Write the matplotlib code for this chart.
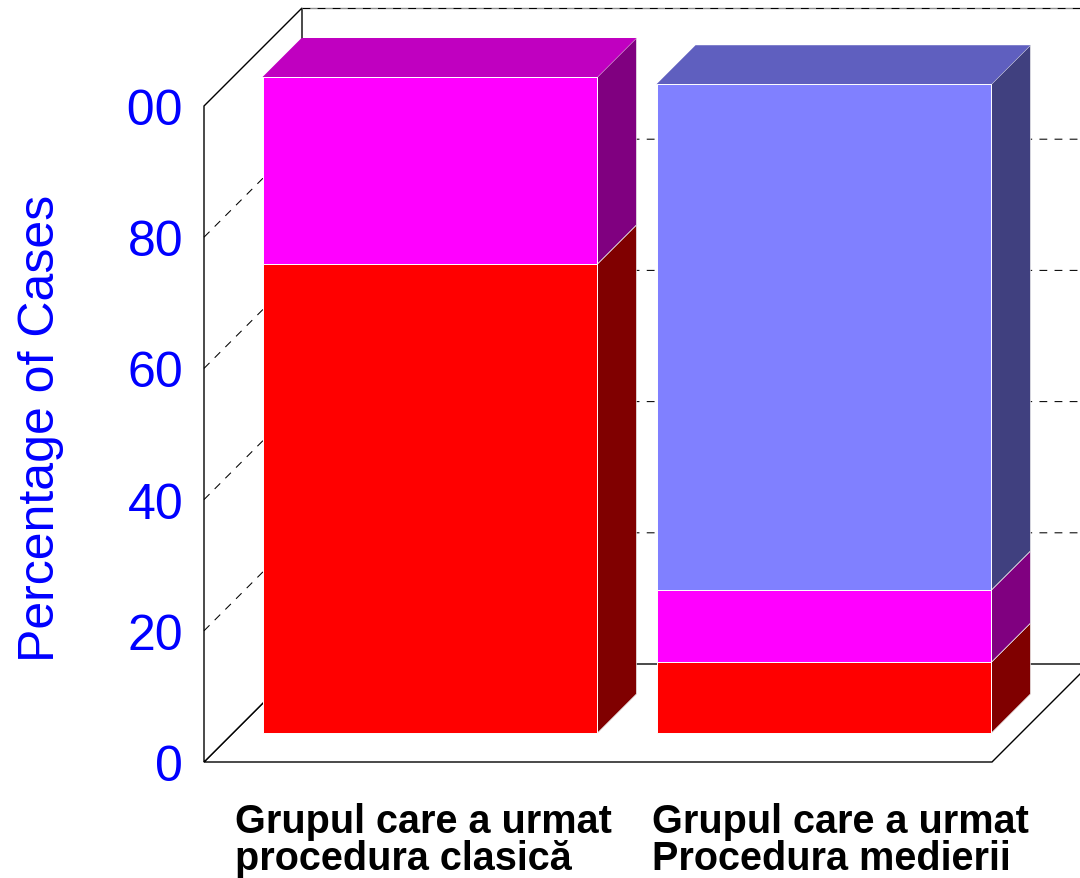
import matplotlib
matplotlib.use("Agg")
import matplotlib.pyplot as plt
from matplotlib.transforms import Bbox, TransformedBbox

# Data (percent of cases)
categories = ["Grupul care a urmat\nprocedura clasică",
              "Grupul care a urmat\nProcedura medierii"]
cat_pos = [0, 1]
red_vals = [71.5, 10.8]
magenta_vals = [28.5, 11.0]
blue_vals = [0.0, 77.1]
yticks = [0, 20, 40, 60, 80, 100]

# front, side, top shades per series
series = [
    (red_vals, "#FF0000", "#800000", "#C00000"),
    (magenta_vals, "#FF00FF", "#800080", "#C000C0"),
    (blue_vals, "#8080FF", "#40407F", "#5F5FBF"),
]

W, H = 1080, 879
fig = plt.figure(figsize=(W / 100, H / 100), dpi=100)
ax = fig.add_axes([204 / W, 116 / H, 788 / W, 656 / H])
ax.set_xlim(-0.5, 1.5)
ax.set_ylim(0, 100)
for s in ax.spines.values():
    s.set_visible(False)
ax.set_xticks([])
ax.set_yticks(yticks)
ax.set_yticklabels([str(t) for t in yticks])
ax.tick_params(axis="y", length=0, pad=15, labelsize=36, labelcolor="#0000FF")
for lab in ax.get_yticklabels():
    lab.set_family("Liberation Sans")

# oblique projection: depth z given in pixels
DX, DY = 2 / 788, 100 / 656
DEPTH = 98
Z0, Z1 = 29, 68   # bar depth range
BW = 0.85


def proj(pts):
    xs = [x + z * DX for x, y, z in pts]
    ys = [y + z * DY for x, y, z in pts]
    return xs, ys


def face(pts, **kw):
    xs, ys = proj(pts)
    ax.fill(xs, ys, clip_on=False, **kw)


def line(pts, **kw):
    xs, ys = proj(pts)
    ax.plot(xs, ys, clip_on=False, **kw)


x0, x1 = ax.get_xlim()
# walls and floor
face([(x0, 0, DEPTH), (x1, 0, DEPTH), (x1, 100, DEPTH), (x0, 100, DEPTH)],
     facecolor="white", edgecolor="none", zorder=1)
face([(x0, 0, 0), (x1, 0, 0), (x1, 0, DEPTH), (x0, 0, DEPTH)],
     facecolor="white", edgecolor="black", linewidth=1.0, zorder=1)
face([(x0, 0, 0), (x0, 100, 0), (x0, 100, DEPTH), (x0, 0, DEPTH)],
     facecolor="white", edgecolor="black", linewidth=1.0, zorder=1)

# dashed gridlines on left wall and back wall
for v in yticks[1:-1]:
    line([(x0, v, 0), (x0, v, DEPTH), (x1, v, DEPTH)], color="black",
         linewidth=0.75, dashes=(7.5, 7), zorder=2)
line([(x0, 100, DEPTH), (x1, 100, DEPTH)], color="#909090", linewidth=1.0, zorder=2)
line([(x0, 100, DEPTH), (x1, 100, DEPTH)], color="black", linewidth=0.75,
     dashes=(7.5, 7), zorder=2)

# stacked pseudo-3D bars
for i, xc in enumerate(cat_pos):
    xl, xr = xc - BW / 2, xc + BW / 2
    bottom = 0.0
    for vals, c_front, c_side, c_top in series:
        v = vals[i]
        if v <= 0:
            continue
        b, t = bottom, bottom + v
        face([(xr, b, Z0), (xr, b, Z1), (xr, t, Z1), (xr, t, Z0)],
             facecolor=c_side, edgecolor="#e8e8e8", linewidth=0.5, zorder=3)
        face([(xl, b, Z0), (xr, b, Z0), (xr, t, Z0), (xl, t, Z0)],
             facecolor=c_front, edgecolor="white", linewidth=0.7, zorder=4)
        last = (t, c_top)
        bottom = t
    t, c_top = last
    face([(xl, t, Z0), (xr, t, Z0), (xr, t, Z1), (xl, t, Z1)],
         facecolor=c_top, edgecolor="none", zorder=3)

# category labels
label_x = [235, 652]
for lx, txt in zip(label_x, categories):
    fig.text(lx / W, 9 / H, txt, ha="left", va="baseline", fontsize=28.5,
             fontweight="bold", family="Liberation Sans", color="black",
             linespacing=0.97)

fig.text(41 / W, 1 - 428 / H, "Percentage of Cases", rotation=90, ha="center",
         va="center", fontsize=36, color="#0000FF", family="Liberation Sans")

# the top tick label is cut off at the left in the original
top_lab = ax.get_yticklabels()[-1]
top_lab.set_clip_box(TransformedBbox(Bbox([[126 / W, 0], [1, 1]]), fig.transFigure))
top_lab.set_clip_on(True)

fig.savefig("out.png", dpi=100)
